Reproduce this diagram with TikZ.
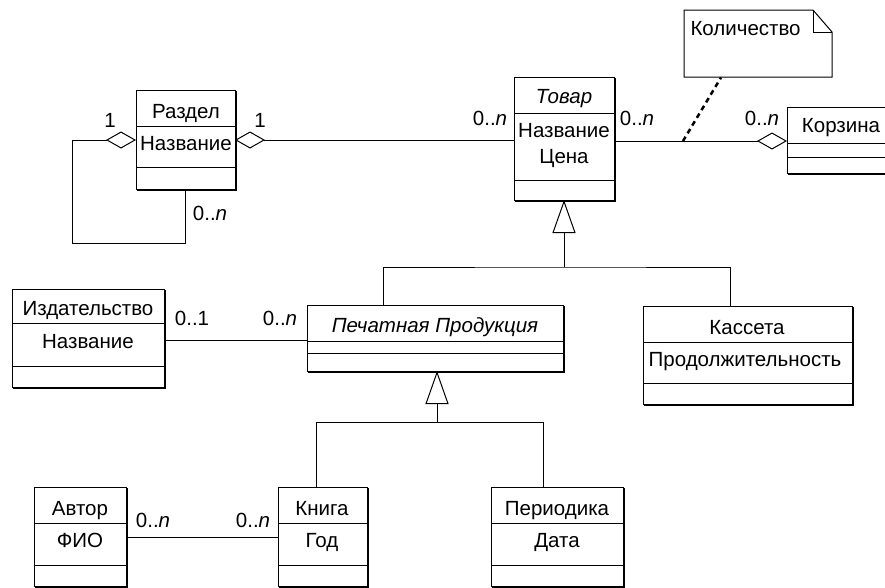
\documentclass[tikz,border=0pt]{standalone}
\usepackage{fontspec}
\setmainfont{Liberation Sans}
\usetikzlibrary{arrows.meta}

\tikzset{
    classbox/.style={draw, rectangle, inner sep=0pt, outer sep=0pt, line width=1pt},
    txt/.style={anchor=base, inner sep=0pt},
    mult/.style={anchor=base, inner sep=0pt},
    aggr/.style={-{Diamond[open, length=30pt, width=17pt]}},
    gen/.style={-{Triangle[open, length=33pt, width=23pt]}},
    notelink/.style={line width=2.5pt, dash pattern=on 5pt off 4pt},
}

% class box: name, left, top, right, bottom, divider 1, divider 2
\newcommand{\umlbox}[7]{%
    \node (#1) [classbox, minimum width={(#4-#2)*1pt}, minimum height={(#5-#3)*1pt}] at ({(#2+#4)/2}, {(#3+#5)/2}) {};
    \draw (#1.west |- 0,#6) -- (#1.east |- 0,#6);
    \draw (#1.west |- 0,#7) -- (#1.east |- 0,#7);
    \draw ([shift={(1,1)}]#1.south west) -- ([shift={(1,1)}]#1.south east) -- ([shift={(1,1)}]#1.north east);
}

\begin{document}
\begin{tikzpicture}[x=1pt, y=-1pt, line width=1pt, font=\fontsize{20.5}{24}\selectfont]

        \clip (0,0) rectangle (885,587);

        % classes
        \umlbox{razdel}{136}{90}{235}{189}{126}{167}
        \umlbox{tovar}{514}{77}{614}{200}{113}{180}
        \umlbox{korzina}{787}{107}{896}{173}{143}{157}
        \umlbox{izd}{12}{289}{164}{387}{323}{366}
        \umlbox{pechat}{307}{305}{563}{371}{341}{353}
        \umlbox{kasseta}{643}{306}{852}{404}{342}{383}
        \umlbox{avtor}{34}{487}{126}{586}{523}{565}
        \umlbox{kniga}{278}{487}{367}{586}{523}{565}
        \umlbox{period}{491}{487}{623}{586}{523}{565}

        \node (razdel-n) at (186, 118) [txt] {Раздел};
        \node (razdel-a) at (186, 150) [txt] {Название};
        \node (tovar-n) at (564, 103) [txt] {\itshape Товар};
        \node (tovar-a) at (564, 137) [txt] {Название};
        \node (tovar-b) at (564, 163) [txt] {Цена};
        \node (korzina-n) at (841, 132) [txt] {Корзина};
        \node (izd-n) at (88, 315) [txt] {Издательство};
        \node (izd-a) at (88, 348) [txt] {Название};
        \node (pechat-n) at (435, 332) [txt] {\itshape Печатная Продукция};
        \node (kasseta-n) at (747, 334) [txt] {Кассета};
        \node (kasseta-a) at (745, 366) [txt] {Продолжительность};
        \node (avtor-n) at (80, 515) [txt] {Автор};
        \node (avtor-a) at (80, 547) [txt] {ФИО};
        \node (kniga-n) at (322, 515) [txt] {Книга};
        \node (kniga-a) at (322, 547) [txt] {Год};
        \node (period-n) at (557, 515) [txt] {Периодика};
        \node (period-a) at (557, 547) [txt] {Дата};

        % note
        \draw (684,10) -- (813,10) -- (832,32) -- (832,77) -- (684,77) -- cycle;
        \draw (813,10) -- (813,32) -- (832,32);
        \node (note) at (758, 43.5) [minimum width=148pt, minimum height=67pt, inner sep=0pt] {};
        \node (note-t) at (690, 35) [anchor=base west, inner sep=0pt] {Количество};

        % aggregations
        \draw[aggr] (razdel.south) -- (185.5,243) -| (72,140) -- (razdel.west |- 0,140);
        \draw[aggr] (tovar.west |- 0,140) -- (razdel.east |- 0,140);
        \draw[aggr] (tovar.east |- 0,141) -- (korzina.west |- 0,141);
        \coordinate (assoc) at (683,141);
        \draw[notelink] (assoc) -- (note.south -| 721,0);

        % associations
        \draw (izd.east |- 0,340) -- (pechat.west |- 0,340);
        \draw (avtor.east |- 0,537) -- (kniga.west |- 0,537);

        % generalizations
        \coordinate (fork1) at (564,267);
        \draw[gen] (fork1) -- (tovar.south);
        \draw (pechat.north -| 383,0) |- (fork1) -| (kasseta.north -| 730,0);

        \coordinate (fork2) at (437,422);
        \draw[gen] (fork2) -- (pechat.south -| 437,0);
        \draw (kniga.north -| 316,0) |- (fork2) -| (period.north -| 543,0);

        % multiplicities
        \node (m1) at (110, 127) [mult] {1};
        \node (m2) at (260, 127) [mult] {1};
        \node (m3) at (210, 220) [mult] {0..\textit{n}};
        \node (m4) at (490, 125) [mult] {0..\textit{n}};
        \node (m5) at (637, 125) [mult] {0..\textit{n}};
        \node (m6) at (762, 125) [mult] {0..\textit{n}};
        \node (m7) at (192, 325) [mult] {0..1};
        \node (m8) at (280, 325) [mult] {0..\textit{n}};
        \node (m9) at (153, 527) [mult] {0..\textit{n}};
        \node (m10) at (253, 527) [mult] {0..\textit{n}};

    \end{tikzpicture}
\end{document}
